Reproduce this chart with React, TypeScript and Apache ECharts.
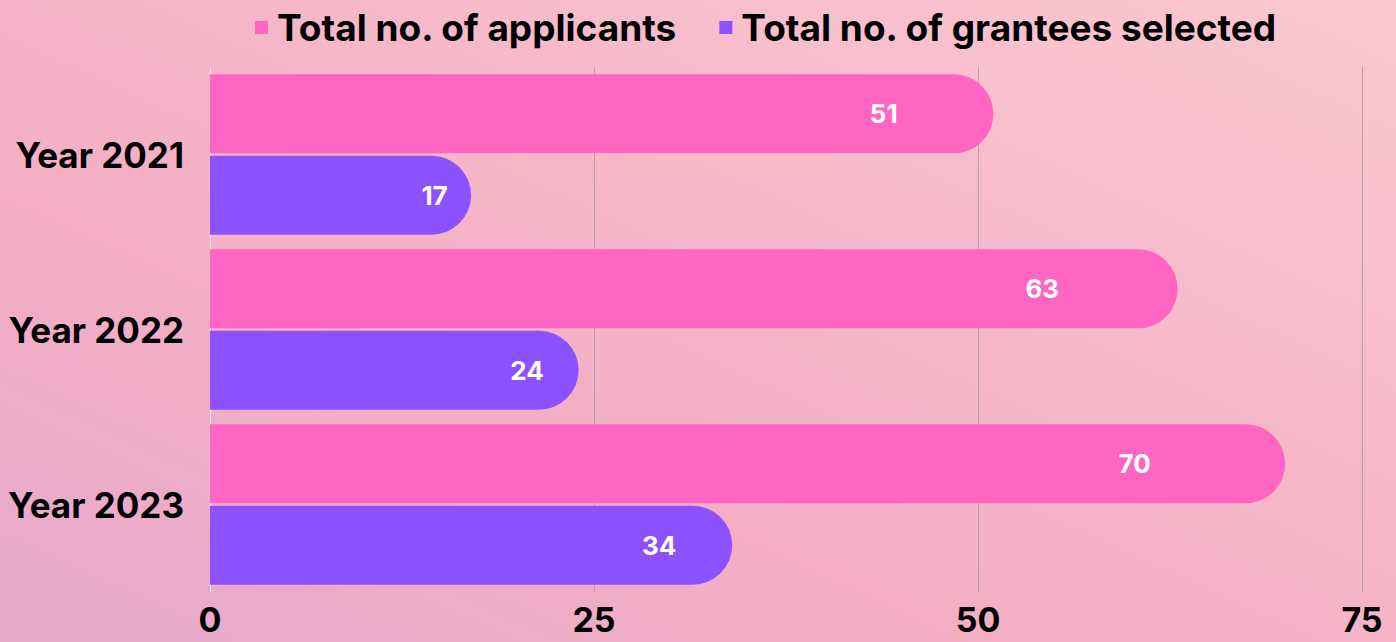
import React, { useEffect, useRef } from "react";
import * as echarts from "echarts";

const categories = ["Year 2021", "Year 2022", "Year 2023"];
const applicants = [51, 63, 70];
const grantees = [17, 24, 34];
const seriesNames = ["Total no. of applicants", "Total no. of grantees selected"];
const xTicks = [0, 25, 50, 75];

const FONT = "Inter, 'Noto Sans', sans-serif";

export default function App() {
  const ref = useRef<HTMLDivElement>(null);
  useEffect(() => {
    document.body.style.margin = "0";
    const chart = echarts.init(ref.current!, null, { renderer: "svg" });
    const label = {
      show: true,
      position: ["86%", "50%"] as any,
      align: "center",
      verticalAlign: "middle",
      color: "#ffffff",
      fontFamily: FONT,
      fontWeight: "bold" as any,
      fontSize: 26,
    };
    chart.setOption({
      animation: false,
      backgroundColor: {
        type: "linear",
        x: 0,
        y: 1,
        x2: 1,
        y2: 0,
        colorStops: [
          { offset: 0, color: "#e6aacb" },
          { offset: 0.35, color: "#f3aec4" },
          { offset: 0.7, color: "#f7bccb" },
          { offset: 1, color: "#fbc8d0" },
        ],
      },
      legend: {
        top: 4,
        left: 250,
        icon: "rect",
        itemWidth: 13,
        itemHeight: 13,
        itemGap: 42,
        textStyle: {
          fontFamily: FONT,
          fontWeight: "bold",
          fontSize: 37,
          color: "#000000",
          padding: [0, 0, 0, 4],
        },
        data: seriesNames,
      },
      grid: { left: 210, right: 34, top: 67, bottom: 50, containLabel: false },
      xAxis: {
        type: "value",
        min: 0,
        max: 75,
        interval: 25,
        axisLine: { show: false },
        axisTick: { show: false },
        axisLabel: {
          color: "#000000",
          fontFamily: FONT,
          fontWeight: "bold",
          fontSize: 34,
          margin: 10,
          formatter: (v: number) => (xTicks.includes(v) ? String(v) : ""),
        },
        splitLine: {
          show: true,
          lineStyle: {
            color: ["rgba(255,235,240,0.6)", "#b9a1ab", "#b9a1ab", "#b9a1ab"],
            width: 1,
          },
        },
      },
      yAxis: {
        type: "category",
        inverse: true,
        data: categories,
        axisLine: { show: true, lineStyle: { color: "rgba(255,235,240,0.7)", width: 1 } },
        axisTick: { show: false },
        axisLabel: {
          color: "#000000",
          fontFamily: FONT,
          fontWeight: "bold",
          fontSize: 35,
          margin: 26,
        },
      },
      series: [
        {
          name: seriesNames[0],
          type: "bar",
          data: applicants,
          barWidth: 79,
          barGap: "3%",
          itemStyle: { color: "#ff66c4", borderRadius: [0, 40, 40, 0] },
          label,
        },
        {
          name: seriesNames[1],
          type: "bar",
          data: grantees,
          barWidth: 79,
          barGap: "3%",
          itemStyle: { color: "#8c52ff", borderRadius: [0, 40, 40, 0] },
          label,
        },
      ],
    });
    return () => chart.dispose();
  }, []);
  return (
    <div
      ref={ref}
      style={{ position: "absolute", left: 0, top: 0, width: 1396, height: 642 }}
    />
  );
}
